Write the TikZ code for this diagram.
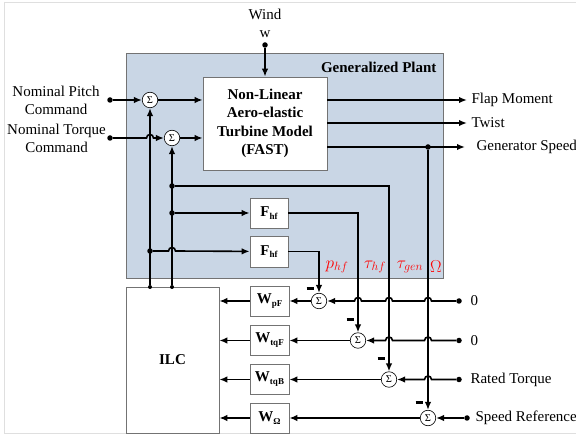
\documentclass[tikz,border=0pt]{standalone}
\usepackage{fontspec}
\setmainfont{Liberation Serif}
\usetikzlibrary{arrows.meta}
\definecolor{plantblue}{RGB}{201,214,229}
\definecolor{boxgray}{RGB}{115,115,115}
\begin{document}
\begin{tikzpicture}[x=1pt,y=-1pt,
  wire/.style={line width=1.6pt},
  arr/.style={wire,-{Latex[length=8pt,width=6.5pt]}},
  blk/.style={draw=boxgray,line width=0.7pt,fill=white,inner sep=0pt},
  sumnode/.style={circle,draw=black,line width=0.6pt,fill=white,minimum size=15.5pt,inner sep=0pt,font=\fontsize{10.5}{10.5}\selectfont},
  jdot/.style={circle,fill=black,inner sep=0pt,minimum size=5.5pt},
  lbl/.style={font=\fontsize{15}{18}\selectfont},
  bl/.style={font=\bfseries\fontsize{15}{18.5}\selectfont},
  sig/.style={text=red,font=\fontsize{17}{17}\selectfont},
  minussign/.style={inner sep=0pt},
  hopr/.style={insert path={-- ([xshift=-3.5pt]#1) .. controls ([xshift=-3.5pt,yshift=4.6pt]#1) and ([xshift=3.5pt,yshift=4.6pt]#1) .. ([xshift=3.5pt]#1)}},
  hopl/.style={insert path={-- ([xshift=3.5pt]#1) .. controls ([xshift=3.5pt,yshift=4.6pt]#1) and ([xshift=-3.5pt,yshift=4.6pt]#1) .. ([xshift=-3.5pt]#1)}},
]
\useasboundingbox (0,0) rectangle (576,438);
% faint outer frame
\draw[gray!25,line width=0.8pt] (4,2) -- (590,2);
\draw[gray!25,line width=0.8pt] (4,2) -- (4,433) -- (590,433);

% generalized plant
\node[draw=boxgray,line width=0.7pt,fill=plantblue,minimum width=317pt,minimum height=225pt,inner sep=0pt] (plant) at (284.5,165.5) {};
\node[bl,anchor=east] (plantlbl) at (440,67) {Generalized Plant};

% main blocks
\node[blk,bl,align=center,minimum width=124pt,minimum height=93pt] (fast) at (265,123.5) {Non-Linear\\Aero-elastic\\Turbine Model\\(FAST)};
\node[blk,bl,minimum width=38pt,minimum height=30pt] (fhf1) at (269,213) {F\raisebox{-2.5pt}{\fontsize{9}{9}\selectfont\textbf{hf}}};
\node[blk,bl,minimum width=38pt,minimum height=31pt] (fhf2) at (269,251.5) {F\raisebox{-2.5pt}{\fontsize{9}{9}\selectfont\textbf{hf}}};
\node[blk,bl,minimum width=93pt,minimum height=146pt] (ilc) at (172.5,360) {ILC};
\node[blk,bl,minimum width=39pt,minimum height=30pt] (wp) at (269.5,301) {W\raisebox{-3pt}{\fontsize{9}{9}\selectfont\textbf{pF}}};
\node[blk,bl,minimum width=39pt,minimum height=30pt] (wt) at (269.5,340.5) {W\raisebox{-3pt}{\fontsize{9}{9}\selectfont\textbf{tqF}}};
\node[blk,bl,minimum width=39pt,minimum height=30pt] (wb) at (269.5,379.5) {W\raisebox{-3pt}{\fontsize{9}{9}\selectfont\textbf{tqB}}};
\node[blk,bl,minimum width=39pt,minimum height=30pt] (wo) at (269.5,418) {W\raisebox{-3pt}{\fontsize{9}{9}\selectfont\textbf{Ω}}};

% summing junctions
\node[sumnode] (s1) at (150,100) {Σ};
\node[sumnode] (s2) at (172,138) {Σ};
\node[sumnode] (sp) at (319,301) {Σ};
\node[sumnode] (st) at (358,340.5) {Σ};
\node[sumnode] (sb) at (389,379.5) {Σ};
\node[sumnode] (so) at (428,418) {Σ};

% input / output labels
\node[lbl,align=center] (windlbl) at (265,23) {Wind\\w};
\node[lbl,align=center] (pitchlbl) at (56,100) {Nominal Pitch\\Command};
\node[lbl,align=center] (torquelbl) at (56.5,138.5) {Nominal Torque\\Command};
\node[lbl,anchor=west] (flaplbl) at (468,100) {Flap Moment};
\node[lbl,anchor=west] (twistlbl) at (468,123) {Twist};
\node[lbl,anchor=west] (genlbl) at (473,147) {Generator Speed};
\node[lbl,anchor=west] (r1lbl) at (467,301) {0};
\node[lbl,anchor=west] (r2lbl) at (467,340.5) {0};
\node[lbl,anchor=west] (r3lbl) at (467,379.5) {Rated Torque};
\node[lbl,anchor=west] (r4lbl) at (472,418) {Speed Reference};

% signal names
\node[sig] (phf) at (337,267) {$p_{hf}$};
\node[sig] (thf) at (375,267) {$\tau_{hf}$};
\node[sig] (tgen) at (410,267) {$\tau_{gen}$};
\node[sig] (om) at (436,267) {$\Omega$};

% minus signs
\node[minussign] (m1) at (310,289) {\rule{7pt}{3pt}};
\node[minussign] (m2) at (350,320) {\rule{7pt}{3pt}};
\node[minussign] (m3) at (381,358) {\rule{7pt}{3pt}};
\node[minussign] (m4) at (419,402) {\rule{7pt}{3pt}};

% junction dots and end points
\node[jdot] (wind) at (265,45) {};
\node[jdot] (pitch) at (110,100) {};
\node[jdot] (torque) at (110,138) {};
\node[jdot,minimum size=4pt] (ilcA) at (150,287) {};
\node[jdot,minimum size=4pt] (ilcB) at (172,287) {};
\node[jdot] (j1) at (150,251) {};
\node[jdot] (j2) at (172,213) {};
\node[jdot] (j3) at (172,186) {};
\node[jdot] (j4) at (428,147) {};
\node[jdot] (in1) at (459,301) {};
\node[jdot] (in2) at (459,340.5) {};
\node[jdot] (in3) at (459,379.5) {};
\node[jdot] (in4) at (467,418) {};
\coordinate (flap) at (467,100);
\coordinate (twist) at (467,123);
\coordinate (gsp) at (465,147);

% crossing points (hops)
\coordinate (c1) at (150,138);
\coordinate (c2) at (172,251);
\coordinate (k1) at (428,301);
\coordinate (k2) at (389,301);
\coordinate (k3) at (358,301);
\coordinate (k4) at (428,340.5);
\coordinate (k5) at (389,340.5);
\coordinate (k6) at (428,379.5);

% plant inputs
\draw[arr] (wind) -- (fast);
\draw[arr] (pitch) -- (s1);
\draw[arr] (s1) -- (s1 -| fast.west);
\draw[arr] (torque) [hopr=c1] -- (s2);
\draw[arr] (s2) -- (s2 -| fast.west);

% ILC outputs up into the sums
\draw[arr] (ilcA) -- (s1);
\draw[arr] (ilcB) -- (s2);
\draw[arr] (j1) [hopr=c2] -- (fhf2);
\draw[arr] (j2) -- (fhf1);

% plant outputs
\draw[arr] (fast.east |- flap) -- (flap);
\draw[arr] (fast.east |- twist) -- (twist);
\draw[arr] (fast.east |- gsp) -- (gsp);

% feedback signals down to the error sums
\draw[arr] (fhf2) -| (sp);
\draw[arr] (fhf1) -| (st);
\draw[arr] (j3) -| (sb);
\draw[arr] (j4) -- (so);

% references into the sums
\draw[arr] (in1) [hopl=k1] [hopl=k2] [hopl=k3] -- (sp);
\draw[arr] (in2) [hopl=k4] [hopl=k5] -- (st);
\draw[arr] (in3) [hopl=k6] -- (sb);
\draw[arr] (in4) -- (so);

% errors through weights into ILC
\draw[arr] (sp) -- (wp);
\draw[arr] (st) -- (wt);
\draw[arr] (sb) -- (wb);
\draw[arr] (so) -- (wo);
\draw[arr] (wp) -- (wp -| ilc.east);
\draw[arr] (wt) -- (wt -| ilc.east);
\draw[arr] (wb) -- (wb -| ilc.east);
\draw[arr] (wo) -- (wo -| ilc.east);
\end{tikzpicture}
\end{document}
